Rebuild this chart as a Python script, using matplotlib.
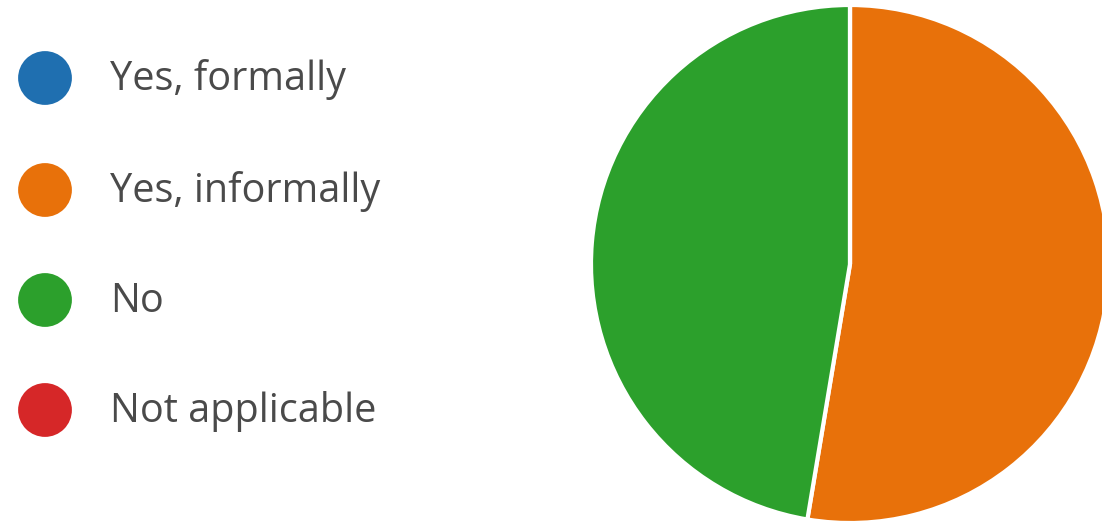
import matplotlib
matplotlib.use("Agg")
import matplotlib.pyplot as plt

# survey answers
labels = ["Yes, formally", "Yes, informally", "No", "Not applicable"]
counts = [0, 10, 9, 0]
colors = ["#1f6fb0", "#e8710a", "#2ca02c", "#d62728"]

W, H = 1102, 526
fig = plt.figure(figsize=(W / 100, H / 100), dpi=100)
ax = fig.add_axes([0, 0, 1, 1])
ax.set_xlim(0, W)
ax.set_ylim(0, H)
ax.set_aspect("equal")
ax.axis("off")

# pie, clockwise from the top
ax.pie(counts, colors=colors, startangle=90, counterclock=False,
       center=(850, 262), radius=259,
       wedgeprops=dict(edgecolor="white", linewidth=3))
ax.set_xlim(0, W)
ax.set_ylim(0, H)

# legend on the left
legend_y = [448, 336, 226, 116]
for lab, col, y in zip(labels, colors, legend_y):
    ax.scatter([45], [y], s=1500, color=col, edgecolors="none")
    ax.text(110, y - 2, lab, fontsize=28.5, color="#4a4a4a", va="center",
            ha="left", family="Open Sans")

fig.savefig("out.png", dpi=100)
